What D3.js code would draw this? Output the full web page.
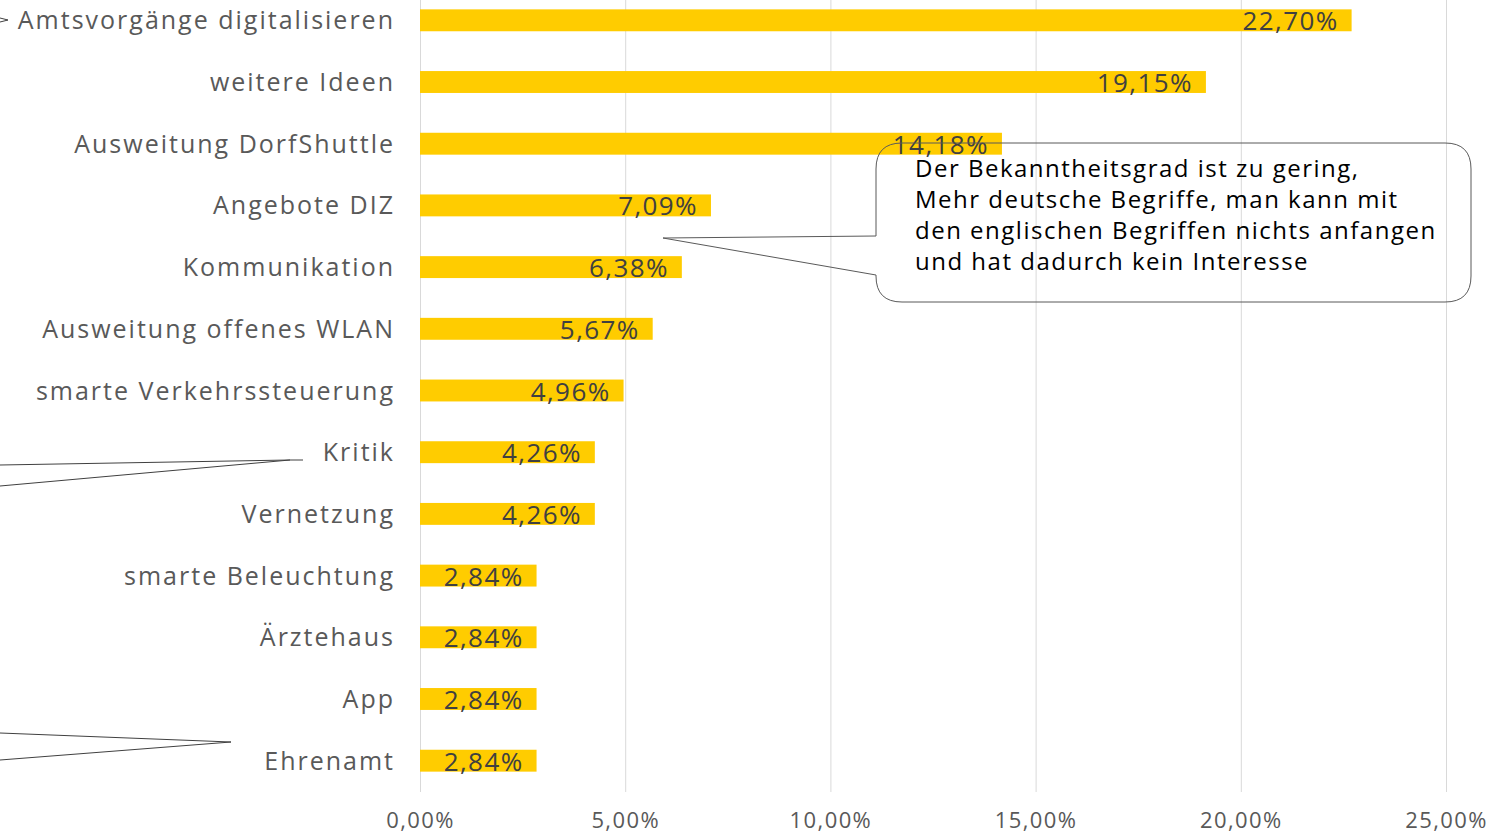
<!DOCTYPE html>
<html><head><meta charset="utf-8">
<script src="https://cdn.jsdelivr.net/npm/d3@7"></script>
<style>
html,body{margin:0;padding:0;background:#fff;overflow:hidden}
svg{display:block}
</style></head>
<body>
<svg id="c" width="1506" height="835"></svg>
<script>
const categories = ["Amtsvorgänge digitalisieren","weitere Ideen","Ausweitung DorfShuttle","Angebote DIZ","Kommunikation","Ausweitung offenes WLAN","smarte Verkehrssteuerung","Kritik","Vernetzung","smarte Beleuchtung","Ärztehaus","App","Ehrenamt"];
const values = [22.70,19.15,14.18,7.09,6.38,5.67,4.96,4.26,4.26,2.84,2.84,2.84,2.84];
const tickValues = [0,5,10,15,20,25];
const calloutLines = ["Der Bekanntheitsgrad ist zu gering,","Mehr deutsche Begriffe, man kann mit","den englischen Begriffen nichts anfangen","und hat dadurch kein Interesse"];

const fmt = v => v.toFixed(2).replace(".", ",") + "%";
const svg = d3.select("#c");
const font = "'Open Sans', 'Liberation Sans', sans-serif";

const x = d3.scaleLinear().domain([0,25]).range([420,1446]);
const y = d3.scaleBand().domain(categories).range([-11, 792]).paddingInner(0.645).paddingOuter(0.33);

// gridlines
svg.append("g").selectAll("line").data(tickValues).join("line")
  .attr("x1", d=>x(d)+0.5).attr("x2", d=>x(d)+0.5)
  .attr("y1", 0).attr("y2", 792)
  .attr("stroke", "#d9d9d9").attr("stroke-width", 1);

// bars
svg.append("g").selectAll("rect").data(categories).join("rect")
  .attr("x", x(0)).attr("y", d=>y(d))
  .attr("width", (d,i)=>x(values[i])-x(0))
  .attr("height", y.bandwidth())
  .attr("fill", "#ffcc00");

// value labels
svg.append("g").selectAll("text").data(categories).join("text")
  .attr("x", (d,i)=>x(values[i])-13)
  .attr("y", d=>y(d)+y.bandwidth()/2+10)
  .attr("text-anchor","end")
  .attr("font-family", font).attr("font-size", 26)
  .attr("letter-spacing", 1.4)
  .attr("fill", "#404040")
  .text((d,i)=>fmt(values[i]));

// category labels
svg.append("g").selectAll("text").data(categories).join("text")
  .attr("x", 395)
  .attr("y", d=>y(d)+y.bandwidth()/2+9)
  .attr("text-anchor","end")
  .attr("font-family", font).attr("font-size", 25)
  .attr("fill", "#595959")
  .attr("letter-spacing", 2.0)
  .text(d=>d);

// axis tick labels
const ax = d3.axisBottom(x).tickValues(tickValues).tickSize(0).tickPadding(0).tickFormat(d=>fmt(d));
const axg = svg.append("g").attr("transform","translate(0,812)").call(ax);
axg.select(".domain").remove();
axg.selectAll("text").attr("font-family", font).attr("font-size", 22).attr("letter-spacing", 1.4).attr("fill","#595959");

// callout
const bx0=876, bx1=1471, by0=143, by1=302, r=26, tipX=663, tipY=238;
const p = d3.path();
p.moveTo(bx0+r, by0);
p.lineTo(bx1-r, by0);
p.quadraticCurveTo(bx1, by0, bx1, by0+r);
p.lineTo(bx1, by1-r);
p.quadraticCurveTo(bx1, by1, bx1-r, by1);
p.lineTo(bx0+r, by1);
p.quadraticCurveTo(bx0, by1, bx0, by1-r);
p.lineTo(bx0, 275);
p.lineTo(tipX, tipY);
p.lineTo(bx0, 236);
p.lineTo(bx0, by0+r);
p.quadraticCurveTo(bx0, by0, bx0+r, by0);
p.closePath();
svg.append("path").attr("d", p.toString()).attr("fill","none").attr("stroke","#595959").attr("stroke-width",1);

svg.append("g").selectAll("text").data(calloutLines).join("text")
  .attr("x", 915).attr("y", (d,i)=>177+i*31)
  .attr("font-family", font).attr("font-size", 24).attr("letter-spacing", 1.5).attr("fill","#000")
  .text(d=>d);

// leader lines from off-canvas callouts
svg.append("path").attr("d","M0,465L290,460L303,460M0,486L290,460").attr("fill","none").attr("stroke","#404040").attr("stroke-width",1);
svg.append("path").attr("d","M0,733L231,742L0,760").attr("fill","none").attr("stroke","#404040").attr("stroke-width",1);
svg.append("path").attr("d","M0,18L8,20L0,22").attr("fill","none").attr("stroke","#404040").attr("stroke-width",1);
</script>
</body></html>
